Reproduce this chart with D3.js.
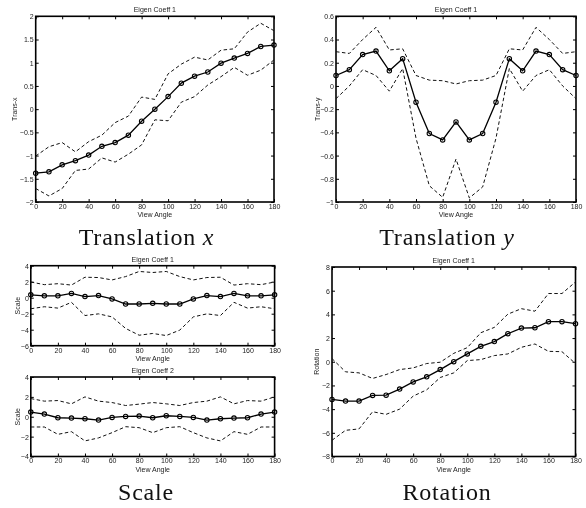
<!DOCTYPE html>
<html>
<head>
<meta charset="utf-8">
<script src="https://cdn.jsdelivr.net/npm/d3@7"></script>
<style>
  body { margin: 0; background: #fff; }
  svg { display: block; will-change: transform; }
  .tick text { font-family: "Liberation Sans", Arial, sans-serif; font-size: 7px; fill: #222; }
  .small { font-family: "Liberation Sans", Arial, sans-serif; font-size: 7px; fill: #222; }
  .big { font-family: "Liberation Serif", "Times New Roman", serif; font-size: 24px; fill: #111; letter-spacing: 0.8px; }
</style>
</head>
<body>
<svg id="chart"></svg>
<script>
// view angles shared by every panel
const angles = [0, 10, 20, 30, 40, 50, 60, 70, 80, 90, 100, 110, 120, 130, 140, 150, 160, 170, 180]
const xTicks = [0, 20, 40, 60, 80, 100, 120, 140, 160, 180]

// Translation x
const txMean  = [-1.38, -1.35, -1.20, -1.11, -0.99, -0.80, -0.72, -0.56, -0.26, 0.0, 0.27, 0.56, 0.71, 0.80, 0.99, 1.10, 1.20, 1.35, 1.38]
const txUpper = [-1.01, -0.81, -0.72, -0.92, -0.70, -0.56, -0.29, -0.15, 0.26, 0.21, 0.76, 0.97, 1.12, 1.06, 1.27, 1.30, 1.66, 1.85, 1.69]
const txLower = [-1.71, -1.87, -1.71, -1.32, -1.29, -1.05, -1.14, -0.97, -0.77, -0.23, -0.25, 0.15, 0.27, 0.52, 0.70, 0.90, 0.73, 0.84, 1.06]
const txTicks = [-2, -1.5, -1, -0.5, 0, 0.5, 1, 1.5, 2]

// Translation y
const tyMean  = [0.09, 0.14, 0.27, 0.30, 0.13, 0.235, -0.14, -0.41, -0.465, -0.31, -0.465, -0.41, -0.14, 0.235, 0.13, 0.30, 0.27, 0.14, 0.09]
const tyUpper = [0.295, 0.28, 0.40, 0.505, 0.31, 0.32, 0.09, 0.05, 0.045, 0.017, 0.045, 0.05, 0.09, 0.32, 0.31, 0.505, 0.40, 0.28, 0.295]
const tyLower = [-0.11, 0.0, 0.14, 0.09, -0.045, 0.15, -0.45, -0.86, -0.96, -0.63, -0.965, -0.87, -0.45, 0.15, -0.045, 0.09, 0.14, 0.0, -0.11]
const tyTicks = [-1, -0.8, -0.6, -0.4, -0.2, 0, 0.2, 0.4, 0.6]

// Scale, coefficient 1
const s1Mean  = [0.36, 0.23, 0.23, 0.53, 0.14, 0.27, -0.15, -0.79, -0.79, -0.70, -0.79, -0.79, -0.15, 0.27, 0.14, 0.53, 0.23, 0.23, 0.36]
const s1Upper = [1.96, 1.63, 1.75, 1.58, 2.56, 2.52, 2.22, 2.64, 3.28, 3.15, 3.28, 2.64, 2.22, 2.52, 2.56, 1.58, 1.75, 1.63, 1.96]
const s1Lower = [-1.38, -1.13, -1.30, -0.58, -2.23, -2.02, -2.40, -3.84, -4.69, -4.47, -4.73, -4.05, -2.40, -2.02, -2.23, -0.58, -1.30, -1.13, -1.38]
const s1Ticks = [-6, -4, -2, 0, 2, 4]

// Scale, coefficient 2
const s2Mean  = [0.47, 0.27, -0.10, -0.13, -0.20, -0.33, -0.07, 0.03, 0.07, -0.10, 0.10, 0.03, -0.07, -0.33, -0.20, -0.13, -0.10, 0.27, 0.47]
const s2Upper = [1.83, 1.57, 1.63, 1.30, 2.00, 1.57, 1.43, 1.13, 1.27, 1.43, 1.30, 1.13, 1.43, 1.57, 2.00, 1.30, 1.63, 1.57, 2.00]
const s2Lower = [-1.03, -1.03, -1.77, -1.50, -2.43, -2.13, -1.60, -1.00, -1.10, -1.60, -1.10, -1.00, -1.60, -2.13, -2.43, -1.50, -1.77, -1.03, -1.03]
const s2Ticks = [-4, -2, 0, 2, 4]

// Rotation
const rMean  = [-3.18, -3.32, -3.32, -2.84, -2.82, -2.31, -1.70, -1.27, -0.66, 0.01, 0.66, 1.30, 1.70, 2.37, 2.84, 2.87, 3.38, 3.38, 3.21]
const rUpper = [0.27, -0.85, -0.94, -1.41, -1.08, -0.66, -0.52, -0.15, -0.04, 0.71, 1.19, 2.45, 2.90, 4.02, 4.48, 4.27, 5.76, 5.76, 6.74]
const rLower = [-6.63, -5.79, -5.67, -4.22, -4.44, -4.00, -2.90, -2.37, -1.33, -0.94, 0.10, 0.18, 0.52, 0.66, 1.22, 1.50, 0.88, 0.85, -0.15]
const rTicks = [-8, -6, -4, -2, 0, 2, 4, 6, 8]

const width = 586, height = 508
const svg = d3.select("#chart").attr("width", width).attr("height", height)

const panels = [
  { title: "Eigen Coeff 1", ylabel: "Trans-x", mean: txMean, upper: txUpper, lower: txLower, ticks: txTicks,
    left: 35.7, right: 274, top: 16.3, bottom: 202, ylabelX: 15 },
  { title: "Eigen Coeff 1", ylabel: "Trans-y", mean: tyMean, upper: tyUpper, lower: tyLower, ticks: tyTicks,
    left: 336, right: 576, top: 16.3, bottom: 202, ylabelX: 318 },
  { title: "Eigen Coeff 1", ylabel: "Scale", mean: s1Mean, upper: s1Upper, lower: s1Lower, ticks: s1Ticks,
    left: 30.8, right: 274.6, top: 265.7, bottom: 345.7, ylabelX: 17.5 },
  { title: "Eigen Coeff 2", ylabel: "Scale", mean: s2Mean, upper: s2Upper, lower: s2Lower, ticks: s2Ticks,
    left: 30.8, right: 274.6, top: 377, bottom: 456.5, ylabelX: 17.5 },
  { title: "Eigen Coeff 1", ylabel: "Rotation", mean: rMean, upper: rUpper, lower: rLower, ticks: rTicks,
    left: 332, right: 575.5, top: 267, bottom: 456.5, ylabelX: 317 }
]

const fmt = d3.format("~g")

panels.forEach(p => {
  const x = d3.scaleLinear().domain([0, 180]).range([p.left, p.right])
  const y = d3.scaleLinear().domain(d3.extent(p.ticks)).range([p.bottom, p.top])
  const g = svg.append("g")

  // axes, ticks pointing inwards on all four sides
  const gb = g.append("g").attr("transform", "translate(0," + p.bottom + ")")
    .call(d3.axisBottom(x).tickValues(xTicks).tickFormat(fmt).tickSizeInner(-3).tickSizeOuter(0).tickPadding(2))
  const gt = g.append("g").attr("transform", "translate(0," + p.top + ")")
    .call(d3.axisTop(x).tickValues(xTicks).tickFormat("").tickSizeInner(-3).tickSizeOuter(0))
  const gl = g.append("g").attr("transform", "translate(" + p.left + ",0)")
    .call(d3.axisLeft(y).tickValues(p.ticks).tickFormat(fmt).tickSizeInner(-3).tickSizeOuter(0).tickPadding(2))
  const gr = g.append("g").attr("transform", "translate(" + p.right + ",0)")
    .call(d3.axisRight(y).tickValues(p.ticks).tickFormat("").tickSizeInner(-3).tickSizeOuter(0))
  ;[gb, gt, gl, gr].forEach(a => {
    a.select(".domain").remove()
    a.selectAll(".tick line").attr("stroke", "#000").attr("stroke-width", 1)
  })
  gl.selectAll(".tick text").attr("dy", "0.35em")

  // box
  g.append("rect")
    .attr("x", p.left).attr("y", p.top)
    .attr("width", p.right - p.left).attr("height", p.bottom - p.top)
    .attr("fill", "none").attr("stroke", "#000").attr("stroke-width", 1.6)

  const line = d3.line().x((d, i) => x(angles[i])).y(d => y(d))

  ;[p.upper, p.lower].forEach(s => {
    g.append("path").datum(s).attr("d", line)
      .attr("fill", "none").attr("stroke", "#111").attr("stroke-width", 1)
      .attr("stroke-dasharray", "3.5,2.5")
  })

  g.append("path").datum(p.mean).attr("d", line)
    .attr("fill", "none").attr("stroke", "#000").attr("stroke-width", 1.3)

  g.selectAll("circle.pt").data(p.mean).enter().append("circle")
    .attr("class", "pt")
    .attr("cx", (d, i) => x(angles[i])).attr("cy", d => y(d))
    .attr("r", 2.2).attr("fill", "none").attr("stroke", "#000").attr("stroke-width", 1.1)

  // texts
  const cx = (p.left + p.right) / 2
  g.append("text").attr("class", "small").attr("x", cx).attr("y", p.top - 4)
    .attr("text-anchor", "middle").text(p.title)
  g.append("text").attr("class", "small").attr("x", cx).attr("y", p.bottom + 15)
    .attr("text-anchor", "middle").text("View Angle")
  g.append("text").attr("class", "small")
    .attr("transform", "translate(" + p.ylabelX + "," + (p.top + p.bottom) / 2 + ") rotate(-90)")
    .attr("text-anchor", "middle").attr("dy", "0.35em").text(p.ylabel)
})

// captions under each block
const captions = [
  { main: "Translation ", math: "x", x: 146.5, y: 244.5 },
  { main: "Translation ", math: "y", x: 447, y: 244.5 },
  { main: "Scale", math: "", x: 146, y: 500 },
  { main: "Rotation", math: "", x: 447, y: 500 }
]
captions.forEach(c => {
  const t = svg.append("text").attr("class", "big").attr("x", c.x).attr("y", c.y).attr("text-anchor", "middle")
  t.append("tspan").text(c.main)
  if (c.math) t.append("tspan").attr("font-style", "italic").text(c.math)
})
</script>
</body>
</html>
